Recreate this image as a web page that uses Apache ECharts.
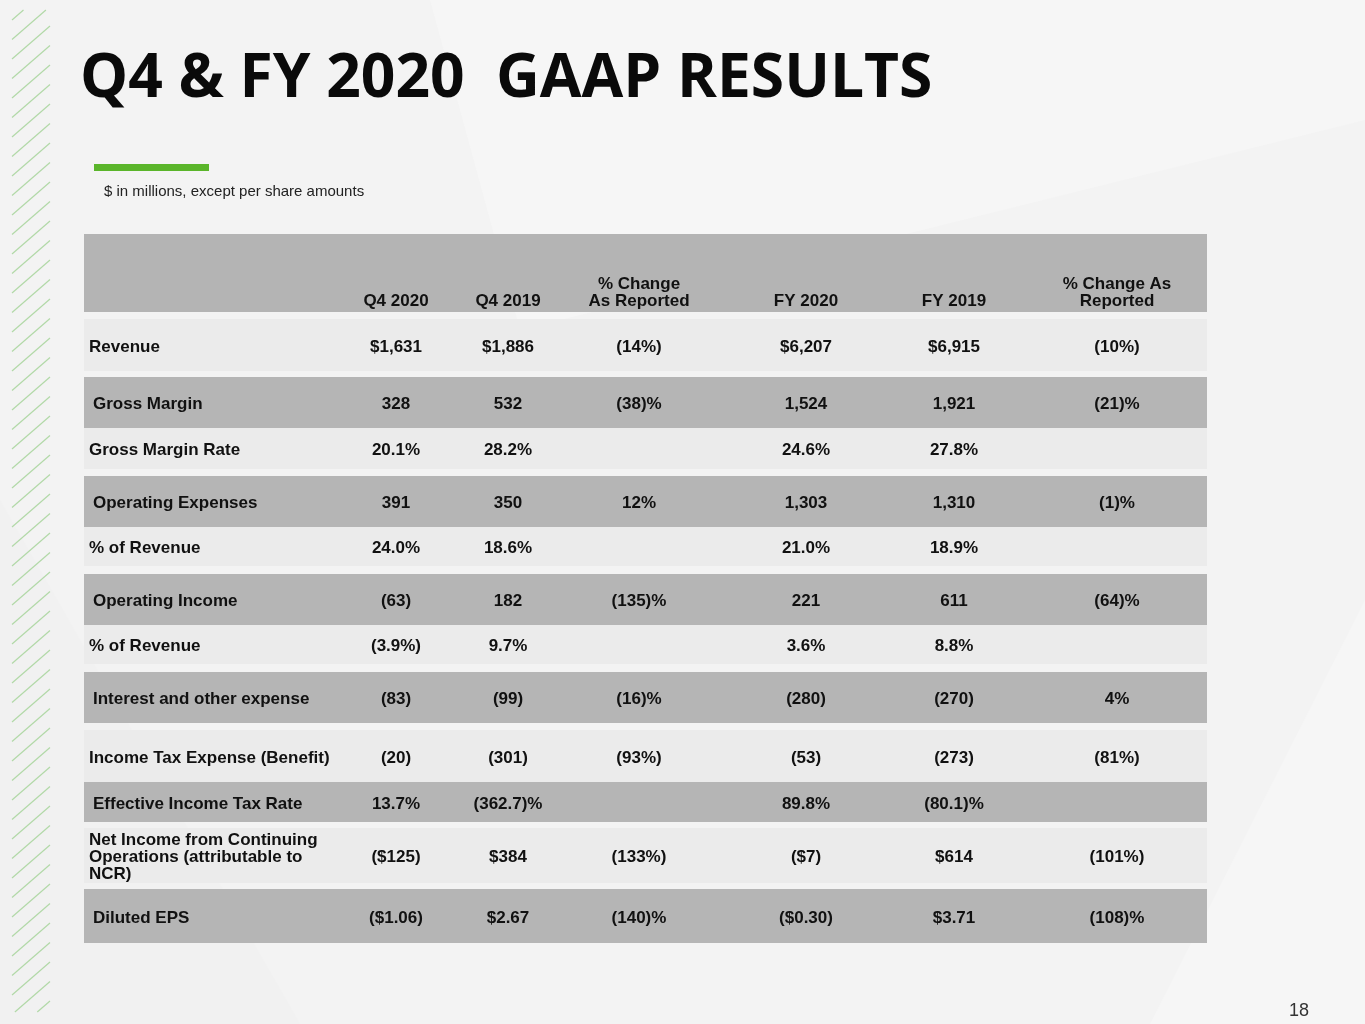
<!DOCTYPE html>
<html><head><meta charset="utf-8">
<script src="https://cdn.jsdelivr.net/npm/echarts@6/dist/echarts.min.js"></script>
<style>html,body{margin:0;padding:0;background:#f3f3f3}#chart{width:1365px;height:1024px}</style>
</head><body><div id="chart"></div>
<script>
// ---------- data ----------
const titleText = 'Q4 & FY 2020  GAAP RESULTS';
const subtitleText = '$ in millions, except per share amounts';
const pageNumber = '18';
const columnHeaders = ['Q4 2020', 'Q4 2019', '% Change\nAs Reported', 'FY 2020', 'FY 2019', '% Change As\nReported'];
const rowLabels = ['Revenue', 'Gross Margin', 'Gross Margin Rate', 'Operating Expenses', '% of Revenue',
  'Operating Income', '% of Revenue', 'Interest and other expense', 'Income Tax Expense (Benefit)',
  'Effective Income Tax Rate', 'Net Income from Continuing\nOperations (attributable to\nNCR)', 'Diluted EPS'];
const q4_2020 = ['$1,631', '328', '20.1%', '391', '24.0%', '(63)', '(3.9%)', '(83)', '(20)', '13.7%', '($125)', '($1.06)'];
const q4_2019 = ['$1,886', '532', '28.2%', '350', '18.6%', '182', '9.7%', '(99)', '(301)', '(362.7)%', '$384', '$2.67'];
const q4Change = ['(14%)', '(38)%', '', '12%', '', '(135)%', '', '(16)%', '(93%)', '', '(133%)', '(140)%'];
const fy2020 = ['$6,207', '1,524', '24.6%', '1,303', '21.0%', '221', '3.6%', '(280)', '(53)', '89.8%', '($7)', '($0.30)'];
const fy2019 = ['$6,915', '1,921', '27.8%', '1,310', '18.9%', '611', '8.8%', '(270)', '(273)', '(80.1)%', '$614', '$3.71'];
const fyChange = ['(10%)', '(21)%', '', '(1)%', '', '(64)%', '', '4%', '(81%)', '', '(101%)', '(108)%'];

// ---------- layout / style ----------
const TABLE_W = 1123, TABLE_H = 709;
const headerBand = [0, 78];
const rowBands = [[85,137],[143,194],[194,235],[242,293],[293,332],[340,391],[391,430],[438,489],[496,548],[548,588],[594,649],[655,709]];
const rowShade = ['light','dark','light','dark','light','dark','light','dark','light','dark','light','dark'];
const shadeColor = { light: '#ebebeb', dark: '#b5b5b5', header: '#b4b4b4' };
const colX = [312, 424, 555, 722, 870, 1033];
const valueCols = [q4_2020, q4_2019, q4Change, fy2020, fy2019, fyChange];
const FONT = '"Liberation Sans", Arial, sans-serif';
const textBase = { fontFamily: FONT, fontWeight: 'bold', fontSize: 17, fill: '#111', lineHeight: 17 };

function rect(api, top, bottom, color) {
  const p0 = api.coord([0, top]), p1 = api.coord([TABLE_W, bottom]);
  return { type: 'rect', shape: { x: p0[0], y: p0[1], width: p1[0] - p0[0], height: p1[1] - p0[1] }, style: { fill: color } };
}
function txt(api, x, y, text, align, vAlign) {
  const p = api.coord([x, y]);
  return { type: 'text', style: Object.assign({}, textBase, { text: text, x: p[0], y: p[1], align: align, verticalAlign: vAlign }) };
}

function renderRow(params, api) {
  const i = api.value(0);
  const band = rowBands[i];
  const mid = (band[0] + band[1]) / 2;
  const shade = rowShade[i];
  const children = [rect(api, band[0], band[1], shadeColor[shade])];
  children.push(txt(api, shade === 'dark' ? 9 : 5, mid + 2, rowLabels[i], 'left', 'middle'));
  valueCols.forEach((col, c) => {
    if (col[i]) children.push(txt(api, colX[c], mid + 2, col[i], 'center', 'middle'));
  });
  return { type: 'group', children: children };
}
function renderHeader(params, api) {
  const children = [rect(api, headerBand[0], headerBand[1], shadeColor.header)];
  columnHeaders.forEach((h, c) => children.push(txt(api, colX[c], 75.5, h, 'center', 'bottom')));
  return { type: 'group', children: children };
}

// decorative stripes (slope ~0.87)
const stripes = [];
const SL = 0.87;
for (let c = 20; c < 1080; c += 19.5) {
  let x1 = 12, y1 = c, x2 = 50, y2 = c - SL * 38;
  if (y2 < 10) { y2 = 10; x2 = 12 + (c - 10) / SL; }
  if (y1 > 1012) { y1 = 1012; x1 = 12 + (c - 1012) / SL; }
  if (x2 <= x1 + 1) continue;
  stripes.push({ type: 'line', silent: true, shape: { x1: x1, y1: y1, x2: x2, y2: y2 }, style: { stroke: '#b2d9a8', lineWidth: 1.2 } });
}

const chart = echarts.init(document.getElementById('chart'));
chart.setOption({
  backgroundColor: '#f3f3f3',
  animation: false,
  grid: { left: 84, top: 234, width: TABLE_W, height: TABLE_H },
  xAxis: { type: 'value', min: 0, max: TABLE_W, show: false },
  yAxis: { type: 'value', min: 0, max: TABLE_H, inverse: true, show: false },
  graphic: [
    { type: 'polygon', silent: true, z: -10, shape: { points: [[430, 0], [1365, 0], [1365, 120], [520, 330]] }, style: { fill: '#f6f6f6' } },
    { type: 'polygon', silent: true, z: -10, shape: { points: [[0, 500], [300, 1024], [0, 1024]] }, style: { fill: '#f1f1f1' } },
    { type: 'polygon', silent: true, z: -10, shape: { points: [[1150, 1024], [1365, 600], [1365, 1024]] }, style: { fill: '#f6f6f6' } },
    { type: 'group', children: stripes },
    { type: 'text', left: 80, top: 49, style: { text: titleText, font: 'bold 60.5px "Open Sans", sans-serif', fill: '#0a0a0a' } },
    { type: 'rect', shape: { x: 94, y: 164, width: 115, height: 7 }, style: { fill: '#5ab52a' } },
    { type: 'text', style: { text: subtitleText, x: 104, y: 192, verticalAlign: 'middle', font: '15px "Liberation Sans", Arial, sans-serif', fill: '#222' } },
    { type: 'text', style: { text: pageNumber, x: 1299, y: 1011, align: 'center', verticalAlign: 'middle', font: '18px "Liberation Sans", Arial, sans-serif', fill: '#333' } }
  ],
  series: [
    { type: 'custom', renderItem: renderHeader, data: [[0]], silent: true },
    { type: 'custom', renderItem: renderRow, data: rowLabels.map((l, i) => [i]), silent: true }
  ]
});
</script></body></html>
